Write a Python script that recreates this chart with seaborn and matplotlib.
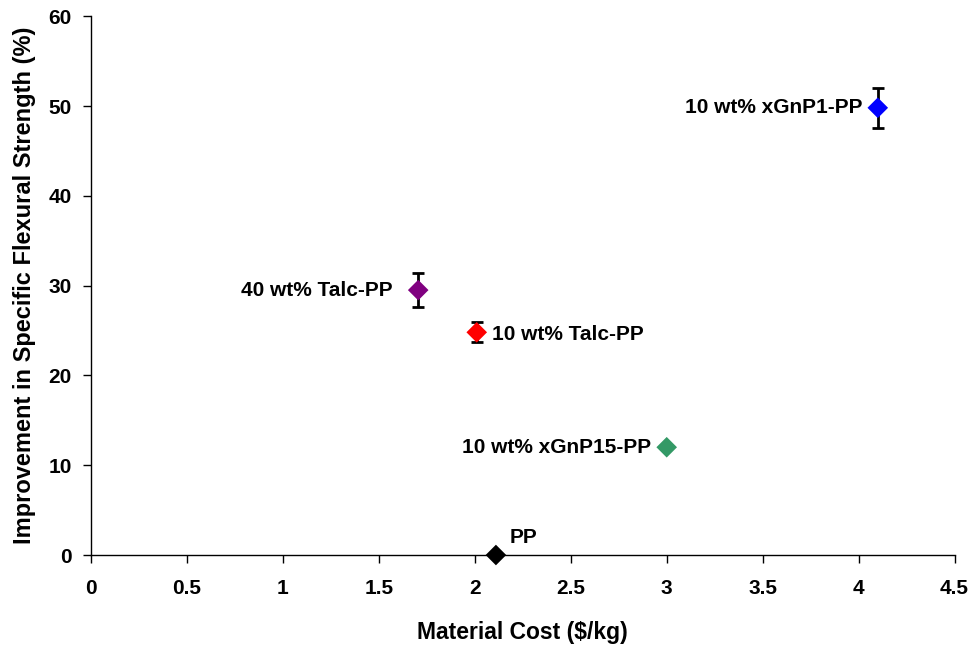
import seaborn as sns
import matplotlib.pyplot as plt
import pandas as pd

# datos
materiales = ['PP', '10 wt% xGnP15-PP', '10 wt% Talc-PP', '40 wt% Talc-PP', '10 wt% xGnP1-PP']
costo = [2.11, 3.0, 2.01, 1.705, 4.10]
mejora = [0.0, 12.0, 24.8, 29.5, 49.8]
error = [0.0, 0.0, 1.1, 1.9, 2.2]
colores = ['#000000', '#339966', '#ff0000', '#800080', '#0000ff']

df = pd.DataFrame({'material': materiales, 'costo': costo, 'mejora': mejora, 'error': error})

sns.set_style('ticks')
plt.rcParams['font.family'] = ['Liberation Sans', 'DejaVu Sans']
plt.rcParams['font.weight'] = 'bold'
plt.rcParams['text.color'] = 'black'
plt.rcParams['axes.labelcolor'] = 'black'
plt.rcParams['xtick.color'] = 'black'
plt.rcParams['ytick.color'] = 'black'

fig = plt.figure(figsize=(9.79, 6.48), dpi=100)
ax = fig.add_axes([0.093, 0.1435, 0.882, 0.8315])

# barras de error
for i in range(len(df)):
    if df.error[i] > 0:
        ax.errorbar(df.costo[i], df.mejora[i], yerr=df.error[i], fmt='none',
                    ecolor='black', elinewidth=2, capsize=4, capthick=2, zorder=2)

sns.scatterplot(data=df, x='costo', y='mejora', hue='material', palette=colores,
                marker='D', s=110, edgecolor='none', legend=False, ax=ax, zorder=3, clip_on=False)

# etiquetas de cada punto
ax.text(2.18, 1.3, 'PP', fontsize=15, fontweight='bold', ha='left', va='baseline')
ax.text(2.92, 12.0, '10 wt% xGnP15-PP', fontsize=15, fontweight='bold', ha='right', va='center')
ax.text(2.09, 24.6, '10 wt% Talc-PP', fontsize=15, fontweight='bold', ha='left', va='center')
ax.text(1.57, 29.5, '40 wt% Talc-PP', fontsize=15, fontweight='bold', ha='right', va='center')
ax.text(4.02, 49.8, '10 wt% xGnP1-PP', fontsize=15, fontweight='bold', ha='right', va='center')

ax.set_xlim(0, 4.5)
ax.set_ylim(0, 60)
ax.set_xticks([0, 0.5, 1, 1.5, 2, 2.5, 3, 3.5, 4, 4.5])
ax.set_xticklabels(['0', '0.5', '1', '1.5', '2', '2.5', '3', '3.5', '4', '4.5'])
ax.set_yticks([0, 10, 20, 30, 40, 50, 60])
ax.tick_params(labelsize=15, width=1, length=6)
ax.tick_params(axis='x', pad=11)
ax.tick_params(axis='y', pad=8)
for lab in ax.get_xticklabels() + ax.get_yticklabels():
    lab.set_fontweight('bold')
ax.set_xlabel('Material Cost ($/kg)', fontsize=16.5, fontweight='bold', labelpad=17)
ax.set_ylabel('Improvement in Specific Flexural Strength (%)', fontsize=17, fontweight='bold', labelpad=9)
for s in ['left', 'bottom']:
    ax.spines[s].set_color('black')
    ax.spines[s].set_linewidth(1)
sns.despine(ax=ax)

fig.savefig('out.png', dpi=100)
